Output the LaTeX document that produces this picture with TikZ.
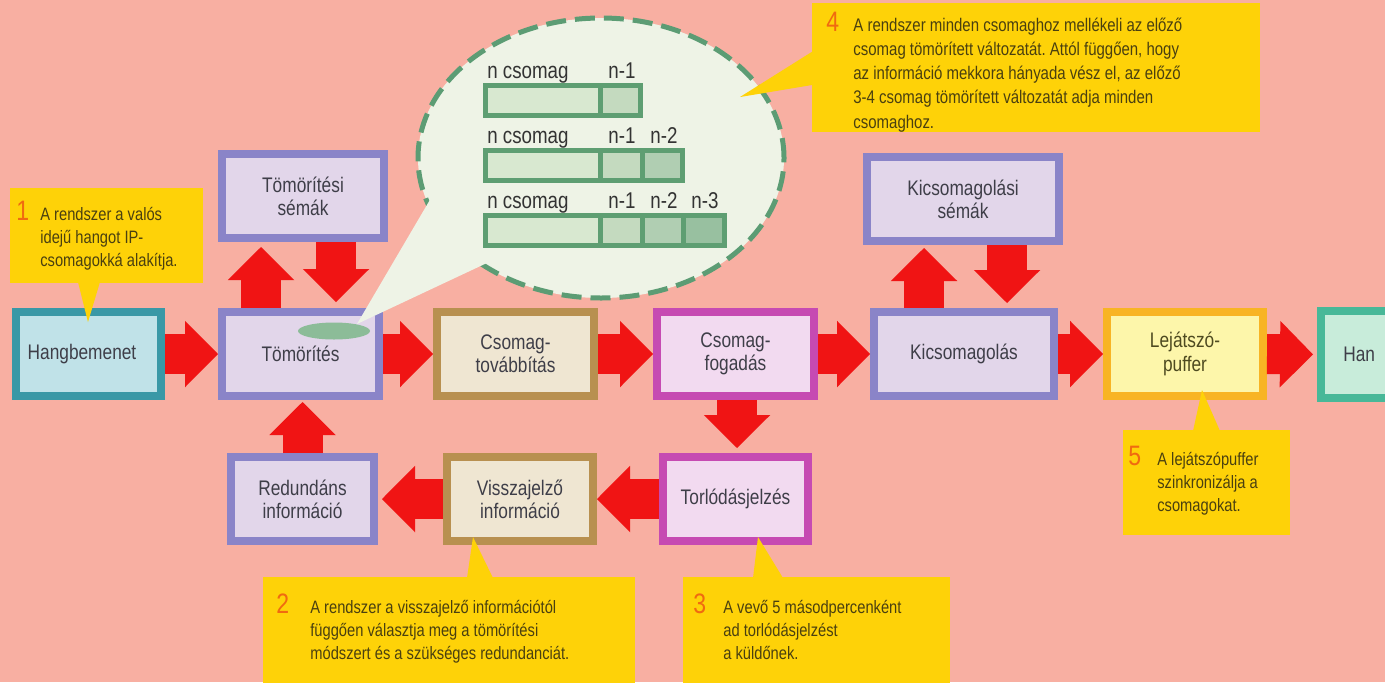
\documentclass[tikz,border=0pt]{standalone}
\usepackage{fontspec}
\setmainfont{Liberation Sans}[FakeStretch=0.82]
\usetikzlibrary{arrows.meta}
\frenchspacing

% palette
\definecolor{bg}{HTML}{F8AFA2}
\definecolor{arrowred}{HTML}{F01414}
\definecolor{callyellow}{HTML}{FED208}
\definecolor{callnum}{HTML}{F06A10}
\definecolor{calltext}{HTML}{4A4010}
\definecolor{boxtext}{HTML}{3E3E48}
\definecolor{tealB}{HTML}{3A98A6}\definecolor{tealF}{HTML}{C0E2E8}
\definecolor{purB}{HTML}{8A84C8}\definecolor{purF}{HTML}{E2D6EA}
\definecolor{brnB}{HTML}{B89050}\definecolor{brnF}{HTML}{EFE6D2}
\definecolor{magB}{HTML}{C64AB2}\definecolor{magF}{HTML}{F2DAF0}
\definecolor{orgB}{HTML}{F8B424}\definecolor{orgF}{HTML}{FDF6AA}
\definecolor{grnB}{HTML}{48B898}\definecolor{grnF}{HTML}{C8ECDA}
\definecolor{bubF}{HTML}{EEF3E6}\definecolor{bubB}{HTML}{5C9C74}
\definecolor{blob}{HTML}{8CBC98}
\definecolor{barB}{HTML}{5E9E72}
\definecolor{segA}{HTML}{D8E8D0}\definecolor{segB}{HTML}{C4DABF}
\definecolor{segC}{HTML}{B0CEB2}\definecolor{segD}{HTML}{98C0A0}
\definecolor{puffertext}{HTML}{4E4A20}

\newcommand\boxfont{\fontsize{12}{13.2}\selectfont}
\newcommand\notefont{\fontsize{10.2}{13.2}\selectfont}
\newcommand\notefontwide{\fontsize{10.4}{13.8}\selectfont}
\newcommand\numfont{\fontsize{16}{16}\selectfont}
\newcommand\barfont{\fontsize{13}{13}\selectfont}
\newcommand\lines[1]{\begin{tabular}[t]{@{}l@{}}#1\end{tabular}}

\tikzset{
  box/.style={rectangle, line width=1.6mm, inner sep=0pt, align=center,
    font=\boxfont, text=boxtext, minimum height=16.8mm},
  bigarrow/.style={draw=arrowred, line width=8mm,
    -{Triangle[width=13.3mm, length=6.6mm, line width=0pt]}},
  callout/.style={rectangle, fill=callyellow, draw=none, inner sep=0pt},
  notenum/.style={anchor=base west, inner sep=0pt, font=\numfont, text=callnum},
  notetext/.style={anchor=base west, inner sep=0pt, font=\notefont, text=calltext},
  barlabel/.style={anchor=base west, inner sep=0pt, font=\barfont, text=black!80},
  seg/.style={draw=barB, line width=1mm},
}

\begin{document}
\begin{tikzpicture}[x=0.2mm, y=-0.2mm]
\useasboundingbox (0,0) rectangle (1385,682);
\clip (0,0) rectangle (1385,682);
\fill[bg] (0,0) rectangle (1385,682);

% process boxes
\node[box, draw=tealB, fill=tealF, minimum width=29mm] (hang) at (88.5,354) {Hangbemenet\kern2.6mm};
\node[box, draw=purB, fill=purF, minimum width=31.4mm] (tom) at (300.5,354) {Tömörítés};
\node[box, draw=purB, fill=purF, minimum width=32.4mm] (tsem) at (303,196) {Tömörítési\\sémák};
\node[box, draw=brnB, fill=brnF, minimum width=31.4mm] (ctov) at (515.5,354) {Csomag-\\továbbítás};
\node[box, draw=magB, fill=magF, minimum width=31.4mm] (cfog) at (735.5,354) {Csomag-\\fogadás};
\node[box, draw=purB, fill=purF, minimum width=36mm] (kics) at (964,354) {Kicsomagolás};
\node[box, draw=purB, fill=purF, minimum width=38.4mm] (ksem) at (963,199) {Kicsomagolási\\sémák};
\node[box, draw=orgB, fill=orgF, minimum width=31.2mm, text=puffertext] (lej) at (1185,354) {Lejátszó-\\puffer};
\node[box, draw=grnB, fill=grnF, minimum width=31mm, minimum height=17.4mm] (hki) at (1398.5,354.5) {};
\node[anchor=west, inner sep=0pt, font=\boxfont, text=boxtext] (hkitext) at (1343,354) {Han};
\node[box, draw=magB, fill=magF, minimum width=29mm] (torl) at (735.5,499) {Torlódásjelzés};
\node[box, draw=brnB, fill=brnF, minimum width=29.2mm] (vissz) at (520,499) {Visszajelző\\információ};
\node[box, draw=purB, fill=purF, minimum width=28.6mm] (redu) at (302.5,499) {Redundáns\\információ};

% helper columns for the vertical arrows
\coordinate (xa) at (261,0);
\coordinate (xb) at (336,0);
\coordinate (xc) at (737,0);
\coordinate (xd) at (924,0);
\coordinate (xe) at (1007,0);

% main flow
\draw[bigarrow] (hang.east) -- (tom.west);
\draw[bigarrow] (tom.east) -- (ctov.west);
\draw[bigarrow] (ctov.east) -- (cfog.west);
\draw[bigarrow] (cfog.east) -- (kics.west);
\draw[bigarrow] (kics.east) -- (lej.west);
\draw[bigarrow, shorten >=0.8mm] (lej.east) -- (hki.west);
% scheme exchanges
\draw[bigarrow, shorten >=1mm] (tom.north -| xa) -- (tsem.south -| xa);
\draw[bigarrow, shorten >=1.2mm] (tsem.south -| xb) -- (tom.north -| xb);
\draw[bigarrow, shorten >=0.6mm] (kics.north -| xd) -- (ksem.south -| xd);
\draw[bigarrow, shorten >=1mm] (ksem.south -| xe) -- (kics.north -| xe);
% feedback loop
\draw[bigarrow, shorten >=1mm] (cfog.south -| xc) -- (torl.north -| xc);
\draw[bigarrow] (torl.west) -- (vissz.east);
\draw[bigarrow, shorten >=0.8mm] (vissz.west) -- (redu.east);
\draw[bigarrow, shorten >=0.4mm] (redu.north) -- (redu.north |- tom.south);

% speech bubble with the packet layouts
\filldraw[fill=bubF, draw=bubB, line width=1mm, dash pattern=on 4mm off 1.8mm]
  (601,158) ellipse [x radius=36.6mm, y radius=28mm];
\fill[bubF] (357,324) -- (431,198) -- (480,215) -- (489,262) -- cycle;
\fill[blob] (334,331) ellipse [x radius=7.2mm, y radius=1.7mm];

% packet bars
\filldraw[seg, fill=segA] (485.5,85.5) rectangle (600,115.5);
\filldraw[seg, fill=segB] (600,85.5) rectangle (640.5,115.5);
\filldraw[seg, fill=segA] (485.5,150.5) rectangle (600,180.5);
\filldraw[seg, fill=segB] (600,150.5) rectangle (642,180.5);
\filldraw[seg, fill=segC] (642,150.5) rectangle (682.5,180.5);
\filldraw[seg, fill=segA] (485.5,215.5) rectangle (600,245.5);
\filldraw[seg, fill=segB] (600,215.5) rectangle (642,245.5);
\filldraw[seg, fill=segC] (642,215.5) rectangle (683,245.5);
\filldraw[seg, fill=segD] (683,215.5) rectangle (724.5,245.5);

\node[barlabel] (l1a) at (487,78) {n csomag};
\node[barlabel] (l1b) at (608,78) {n-1};
\node[barlabel] (l2a) at (487,143) {n csomag};
\node[barlabel] (l2b) at (608,143) {n-1};
\node[barlabel] (l2c) at (650,143) {n-2};
\node[barlabel] (l3a) at (487,208) {n csomag};
\node[barlabel] (l3b) at (608,208) {n-1};
\node[barlabel] (l3c) at (650,208) {n-2};
\node[barlabel] (l3d) at (691,208) {n-3};

% note 1
\node[callout, minimum width=38.6mm, minimum height=19mm] (c1) at (106.5,235.5) {};
\fill[callyellow] (78,282) -- (100,282) -- (88,322) -- cycle;
\node[notenum] (c1n) at (16,220) {1};
\node[notetext] (c1t) at (40,220) {\lines{A rendszer a valós\\idejű hangot IP-\\csomagokká alakítja.}};

% note 2
\node[callout, minimum width=74.4mm, minimum height=22.6mm] (c2) at (449,633.5) {};
\fill[callyellow] (467,578) -- (493,578) -- (473,537) -- cycle;
\node[notenum] (c2n) at (276,613) {2};
\node[notetext] (c2t) at (310,613) {\lines{A rendszer a visszajelző információtól\\függően választja meg a tömörítési\\módszert és a szükséges redundanciát.}};

% note 3
\node[callout, minimum width=53.4mm, minimum height=22.6mm] (c3) at (816.5,633.5) {};
\fill[callyellow] (753,578) -- (783,578) -- (758,537) -- cycle;
\node[notenum] (c3n) at (693,613) {3};
\node[notetext] (c3t) at (723,613) {\lines{A vevő 5 másodpercenként\\ad torlódásjelzést\\a küldőnek.}};

% note 4
\node[callout, minimum width=89.6mm, minimum height=25.8mm] (c4) at (1036,67.5) {};
\fill[callyellow] (818,48) -- (740,97) -- (818,84) -- cycle;
\node[notenum] (c4n) at (826,31) {4};
\node[notetext, font=\notefontwide] (c4t) at (853,31) {\lines{A rendszer minden csomaghoz mellékeli az előző\\csomag tömörített változatát. Attól függően, hogy\\az információ mekkora hányada vész el, az előző\\3-4 csomag tömörített változatát adja minden\\csomaghoz.}};

% note 5
\node[callout, minimum width=33.4mm, minimum height=21mm] (c5) at (1206.5,482.5) {};
\fill[callyellow] (1193,431) -- (1220,431) -- (1202,390) -- cycle;
\node[notenum] (c5n) at (1128,465) {5};
\node[notetext] (c5t) at (1157,465) {\lines{A lejátszópuffer\\szinkronizálja a\\csomagokat.}};
\end{tikzpicture}
\end{document}
